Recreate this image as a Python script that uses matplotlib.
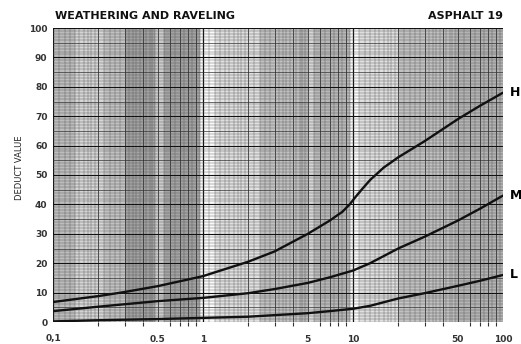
import numpy as np
import matplotlib
matplotlib.use("Agg")
import matplotlib.pyplot as plt

# ---- data ----
x_h = [0.1, 0.2, 0.3, 0.5, 0.8, 1, 2, 3, 5, 7, 8.5, 9.5, 10.5, 11.5, 13, 16, 20, 30, 50, 70, 100]
y_h = [6.8, 8.8, 10.2, 12.2, 14.5, 15.6, 20.5, 24, 30, 34.5, 37.5, 40, 42.8, 45.2, 48.3, 52.5, 56, 61.5, 69, 73.5, 78]
x_m = [0.1, 0.2, 0.5, 1, 2, 3, 5, 7, 10, 13, 20, 30, 50, 70, 100]
y_m = [3.7, 5.2, 7.1, 8.2, 9.8, 11.2, 13.3, 15.2, 17.5, 20, 25, 29, 34.5, 38.5, 43]
x_l = [0.1, 0.2, 0.5, 1, 2, 5, 7, 10, 13, 20, 30, 50, 70, 100]
y_l = [0.2, 0.6, 1.0, 1.4, 1.8, 3.0, 3.7, 4.5, 5.5, 8.0, 9.8, 12.3, 14.0, 16]
curve_names = ["H", "M", "L"]
x_ticks = [0.1, 0.5, 1, 5, 10, 50, 100]
x_ticklabels = ["0,1", "0.5", "1", "5", "10", "50", "100"]
y_ticks = list(range(0, 101, 10))
title_left = "WEATHERING AND RAVELING"
title_right = "ASPHALT 19"
y_label = "DEDUCT VALUE"

fig = plt.figure(figsize=(5.21, 3.44), dpi=100)
ax = fig.add_axes([53/521, 22/344, 450/521, 294/344])
ax.set_xscale("log")
ax.set_xlim(0.1, 100)
ax.set_ylim(0, 100)

# photocopy-like shading bands
bands = [(0.1, 0.14, 0.74), (0.14, 0.22, 0.84), (0.22, 0.3, 0.76), (0.3, 0.48, 0.64),
         (0.48, 0.55, 0.80), (0.55, 0.95, 0.64), (0.95, 1.2, 0.98), (1.2, 2.4, 0.88),
         (2.4, 4.4, 0.76), (4.4, 5.0, 0.72), (5.0, 5.5, 0.84), (5.5, 9.5, 0.72),
         (9.5, 11, 0.98), (11, 20, 0.88), (20, 48, 0.76), (48, 100, 0.70)]
for a, b, g in bands:
    ax.axvspan(a, b, color=str(g), lw=0, zorder=0)

# log grid
for dec in [0.1, 1, 10]:
    fine = list(np.arange(1, 2, 0.1)) + list(np.arange(2, 5, 0.2)) + list(np.arange(5, 10, 0.5))
    for f in fine:
        xv = dec * f
        is_int = abs(f - round(f)) < 1e-6
        if abs(f - 1) < 1e-6:
            ax.axvline(xv, color="#111111", lw=0.9, zorder=1)
        elif is_int:
            ax.axvline(xv, color="#333333", lw=0.6, zorder=1)
        else:
            ax.axvline(xv, color="#555555", lw=0.3, zorder=1)
for yv in range(0, 101):
    if yv % 10 == 0:
        ax.axhline(yv, color="#111111", lw=0.8, zorder=1)
    elif yv % 5 == 0:
        ax.axhline(yv, color="#333333", lw=0.5, zorder=1)
    else:
        ax.axhline(yv, color="#555555", lw=0.3, zorder=1)

for xs, ys, name in [(x_h, y_h, "H"), (x_m, y_m, "M"), (x_l, y_l, "L")]:
    ax.plot(xs, ys, color="#111111", lw=1.7, zorder=3, solid_capstyle="round",
            solid_joinstyle="round")
    ax.annotate(name, xy=(xs[-1], ys[-1]), xytext=(5, 0), textcoords="offset points",
                ha="left", va="center", fontsize=9, fontweight="bold", annotation_clip=False)

for s in ax.spines.values():
    s.set_visible(False)

ax.set_xticks(x_ticks)
ax.set_xticklabels(x_ticklabels)
ax.xaxis.set_minor_locator(matplotlib.ticker.LogLocator(base=10, subs=np.arange(2, 10)))
ax.xaxis.set_minor_formatter(matplotlib.ticker.NullFormatter())
ax.tick_params(axis="x", which="major", length=0, pad=9, labelsize=6.5)
ax.tick_params(axis="x", which="minor", length=3, width=0.8, color="#333333")
ax.set_yticks(y_ticks)
ax.tick_params(axis="y", length=0, pad=4, labelsize=6.5)
for lab in ax.get_xticklabels() + ax.get_yticklabels():
    lab.set_fontweight("bold")
    lab.set_color("#333333")

fig.text(20/521, 1 - 168/344, y_label, rotation=90, ha="center", va="center",
         fontsize=6, color="#222222")
fig.text(55/521, 1 - 16/344, title_left, ha="left", va="center", fontsize=8,
         fontweight="bold", color="#111111")
fig.text(503/521, 1 - 16/344, title_right, ha="right", va="center", fontsize=8,
         fontweight="bold", color="#111111")

fig.savefig("out.png", dpi=100)
